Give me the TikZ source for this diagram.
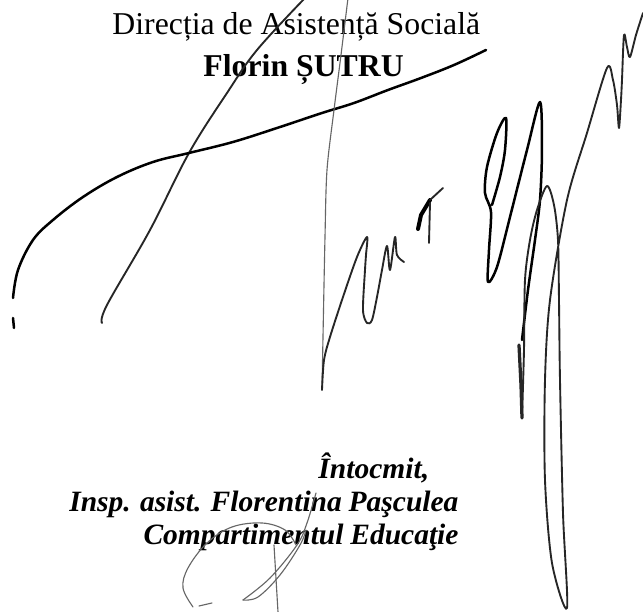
\documentclass[tikz,border=0pt]{standalone}
\usepackage{fontspec}
\setmainfont{Liberation Serif}
\newcommand\narrowgaps{\spaceskip 0.23em\relax}

\begin{document}
\begin{tikzpicture}[x=0.4pt,y=-0.4pt,
  pen/.style={draw=black!85,line width=0.75pt,line cap=round,line join=round},
  ink/.style={draw=black,line width=1pt,line cap=round,line join=round},
  hair/.style={draw=black!60,line width=0.45pt,line cap=round,line join=round},
  title/.style={inner sep=0pt,anchor=base west,font=\fontsize{12.7}{15}\selectfont},
  boldtitle/.style={inner sep=0pt,anchor=base west,font=\fontsize{12.7}{15}\selectfont\bfseries},
  note/.style={inner sep=0pt,font=\fontsize{11.8}{14}\selectfont\bfseries\itshape}]

\fill[white] (0,0) rectangle (643,612);
\useasboundingbox (0,0) rectangle (643,612);

\node[title] (directia) at (112,35) {Direcția de Asistență Socială};
\node[boldtitle] (director) at (203,77) {Florin ȘUTRU};

\node[note,anchor=base west] (intocmit) at (318,479) {Întocmit,};
\node[note,anchor=base east] (inspector) at (459,512) {\narrowgaps Insp. asist. Florentina Paşculea};
\node[note,anchor=base east] (compartiment) at (459,545) {\narrowgaps Compartimentul Educaţie};

\draw[pen] plot[smooth,tension=0.6] coordinates {(305,-2) (257,50) (227,93) (189,153) (150,230) (107,305) (102,323)};
\draw[ink] plot[smooth,tension=0.6] coordinates {(13,298) (18,270) (33,240) (53,220) (83,197) (117,177) (153,162) (189,153) (233,142) (277,128) (322,113) (354,103) (388,90) (421,78) (454,65) (486,50)};
\draw[ink] (13,318) -- (14,328);

\draw[hair] plot[smooth,tension=0.5] coordinates {(348,-2) (341,55) (334,110) (327,170) (325,237) (323,337) (322,390)};
\draw[pen] plot[smooth,tension=0.5] coordinates {(322,390) (324,360) (330,337) (343,297) (357,257) (367,237) (366,255) (365,270) (363,310) (367,323) (372,320) (377,297) (382,270) (387,246) (390,270) (395,237) (397,255) (404,262)};

\draw[ink,line width=1.6pt] (418,229) -- (421,215) -- (430,200);
\draw[pen] (430,200) -- (443,188);
\draw[pen] (430,203) -- (429,243);

\draw[ink] plot[smooth,tension=0.5] coordinates {(492,205) (500,177) (505,150) (506,118) (497,133) (487,167) (485,193) (491,212) (489,250) (488,282) (497,267) (510,217) (527,150) (540,102) (542,150) (540,200) (535,240) (528,290) (522,340)};
\draw[pen,line width=1.3pt] (519,345) -- (521,385) -- (522,418);

\draw[pen] plot[smooth,tension=0.5] coordinates {(522,418) (524,350) (525,280) (530,240) (537,210) (547,186) (554,205) (558,240) (559,300) (560,380) (563,513) (567,608) (552,563) (545,480) (545,380) (550,300) (567,200) (587,133) (607,68) (613,80) (617,105) (619,128) (621,100) (622,80) (624,35) (627,47) (630,57) (636,35) (643,13)};

\draw[hair] plot[smooth,tension=0.6] coordinates {(296,545) (285,530) (262,523) (232,527) (207,543) (188,568) (183,588) (193,607)};
\draw[hair] (199,606) -- (212,603);
\draw[hair] plot[smooth,tension=0.6] coordinates {(316,493) (307,523) (297,545) (270,578) (243,600)};
\draw[hair] plot[smooth,tension=0.6] coordinates {(243,600) (258,597) (280,575) (300,545) (306,530)};
\draw[hair] (274,545) -- (278,612);

\end{tikzpicture}
\end{document}
